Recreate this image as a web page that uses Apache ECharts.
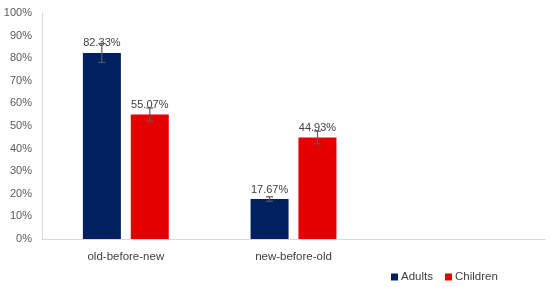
<!DOCTYPE html>
<html>
<head>
<meta charset="utf-8">
<script src="https://cdn.jsdelivr.net/npm/echarts@6/dist/echarts.min.js"></script>
<style>
  html, body { margin: 0; padding: 0; background: #fff; }
  #chart { width: 550px; height: 287px; }
</style>
</head>
<body>
<div id="chart"></div>
<script>
const categories = ['old-before-new', 'new-before-old', '']
const adults = [82.33, 17.67, null]
const children = [55.07, 44.93, null]
const adultsErr = [4.2, 1.0, null]
const childrenErr = [2.9, 2.8, null]
const yTicks = [0, 10, 20, 30, 40, 50, 60, 70, 80, 90, 100]

const chart = echarts.init(document.getElementById('chart'))
const font = 'Liberation Sans, Arial, sans-serif'

// error bars drawn next to bar centers, offset from category center
const errSeries = (vals, errs, offset) => ({
  type: 'custom',
  silent: true,
  z: 5,
  data: vals.map((v, i) => v == null ? null : [i, v - errs[i], v + errs[i]]).filter(d => d),
  renderItem: (params, api) => {
    const lo = api.coord([api.value(0), api.value(1)])
    const hi = api.coord([api.value(0), api.value(2)])
    const x = lo[0] + offset
    const cap = 3.5
    const style = { stroke: '#595959', lineWidth: 1.2 }
    return {
      type: 'group',
      children: [
        { type: 'line', shape: { x1: x, y1: lo[1], x2: x, y2: hi[1] }, style },
        { type: 'line', shape: { x1: x - cap, y1: lo[1], x2: x + cap, y2: lo[1] }, style },
        { type: 'line', shape: { x1: x - cap, y1: hi[1], x2: x + cap, y2: hi[1] }, style }
      ]
    }
  }
})

const labelStyle = {
  show: true,
  position: 'top',
  distance: 4,
  color: '#404040',
  fontFamily: font,
  fontSize: 11,
  formatter: p => p.value.toFixed(2) + '%'
}

const option = {
  animation: false,
  grid: { left: 42, right: 5, top: 13, bottom: 48 },
  legend: {
    data: ['Adults', 'Children'],
    left: 386,
    top: 266,
    itemWidth: 7,
    itemHeight: 7,
    itemGap: 12,
    icon: 'rect',
    textStyle: { color: '#404040', fontFamily: font, fontSize: 11.5, padding: [0, 0, 0, -2] }
  },
  xAxis: {
    type: 'category',
    data: categories,
    axisLine: { lineStyle: { color: '#d9d9d9' } },
    axisTick: { show: false },
    axisLabel: { color: '#404040', fontFamily: font, fontSize: 11.5, margin: 12 }
  },
  yAxis: {
    type: 'value',
    min: 0,
    max: 100,
    interval: 10,
    axisLine: { show: true, lineStyle: { color: '#d9d9d9' } },
    axisTick: { show: false },
    splitLine: { show: false },
    axisLabel: {
      color: '#595959',
      fontFamily: font,
      fontSize: 11,
      margin: 10,
      formatter: v => yTicks.includes(v) ? v + '%' : ''
    }
  },
  series: [
    {
      name: 'Adults',
      type: 'bar',
      data: adults,
      barWidth: 38,
      barGap: '26%',
      itemStyle: { color: '#002060' },
      label: labelStyle
    },
    {
      name: 'Children',
      type: 'bar',
      data: children,
      barWidth: 38,
      barGap: '26%',
      itemStyle: { color: '#E50000' },
      label: labelStyle
    },
    errSeries(adults, adultsErr, -24),
    errSeries(children, childrenErr, 24)
  ]
}

chart.setOption(option)
</script>
</body>
</html>
